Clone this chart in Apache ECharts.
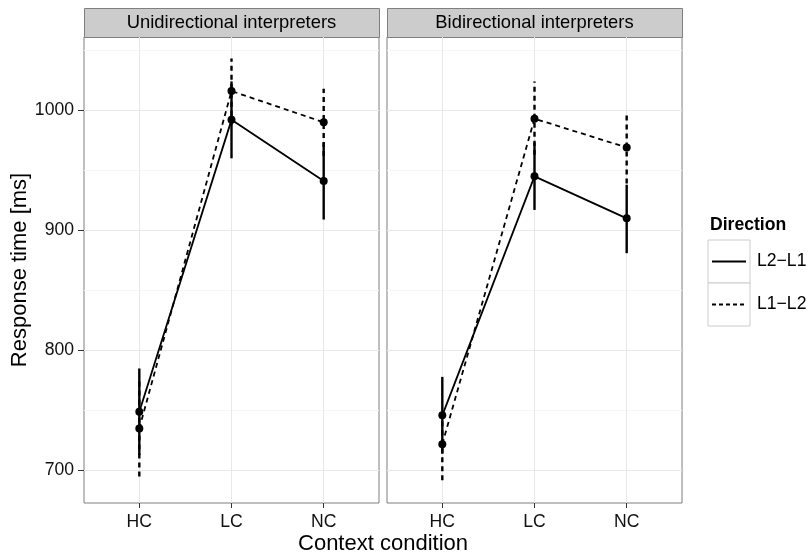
<!DOCTYPE html>
<html>
<head>
<meta charset="utf-8">
<script src="https://cdn.jsdelivr.net/npm/echarts@6/dist/echarts.min.js"></script>
<style>html,body{margin:0;padding:0;background:#fff}#c{width:810px;height:557px}</style>
</head>
<body>
<div id="c"></div>
<script>
var categories = ['HC', 'LC', 'NC'];
var panels = ['Unidirectional interpreters', 'Bidirectional interpreters'];
var seriesNames = ['L2\u2212L1', 'L1\u2212L2'];
var yTicks = [700, 800, 900, 1000];
var yMinorTicks = [750, 850, 950, 1050];

// Unidirectional interpreters
var uniL2L1Mean = [749, 992, 941];
var uniL2L1Lo   = [713, 960, 909];
var uniL2L1Hi   = [785, 1024, 973];
var uniL1L2Mean = [735, 1016, 990];
var uniL1L2Lo   = [695, 988, 962];
var uniL1L2Hi   = [776, 1043, 1018];
// Bidirectional interpreters
var biL2L1Mean = [746, 945, 910];
var biL2L1Lo   = [714, 917, 881];
var biL2L1Hi   = [778, 973, 938];
var biL1L2Mean = [722, 993, 969];
var biL1L2Lo   = [692, 963, 939];
var biL1L2Hi   = [752, 1024, 999];

var FONT = '"Liberation Sans", Arial, Helvetica, sans-serif';
var DASH = [5, 4];
var pos = [1, 2, 3];

function lineData(means) { return means.map(function (m, i) { return [pos[i], m]; }); }
function barData(lo, hi) { return lo.map(function (l, i) { return [pos[i], l, hi[i]]; }); }

function errSeries(name, lo, hi, idx, dashed) {
  return {
    type: 'custom', name: name, xAxisIndex: idx, yAxisIndex: idx,
    data: barData(lo, hi), encode: { x: 0, y: [1, 2] }, z: 2,
    renderItem: function (params, api) {
      var p1 = api.coord([api.value(0), api.value(1)]);
      var p2 = api.coord([api.value(0), api.value(2)]);
      return { type: 'line', shape: { x1: p1[0], y1: p1[1], x2: p2[0], y2: p2[1] },
        style: { stroke: '#000', lineWidth: 2.4, lineDash: dashed ? DASH : null } };
    }
  };
}
function lineSeries(name, means, idx, dashed) {
  return {
    type: 'line', name: name, xAxisIndex: idx, yAxisIndex: idx, data: lineData(means), z: 3,
    symbol: 'circle', symbolSize: 8, itemStyle: { color: '#000' },
    lineStyle: { color: '#000', width: 1.8, type: dashed ? DASH : 'solid' }
  };
}

var gridL = [84, 387], gridW = 295, gridTop = 37, gridH = 466;
var yMin = 673, yMax = 1061;

var xAxes = [0, 1].map(function (i) {
  return {
    type: 'value', gridIndex: i, min: 0.4, max: 3.6,
    axisLine: { show: false },
    axisTick: { show: true, length: 5, customValues: pos, lineStyle: { color: '#333', width: 1 } },
    axisLabel: { customValues: pos, margin: 10, fontFamily: FONT, fontSize: 17.6, color: '#111',
      formatter: function (v) { return categories[Math.round(v) - 1]; } },
    splitLine: { show: true, lineStyle: { color: '#e8e8e8', width: 1 } }
  };
});
var yAxes = [0, 1].map(function (i) {
  return {
    type: 'value', gridIndex: i, min: yMin, max: yMax,
    name: i === 0 ? 'Response time [ms]' : '', nameLocation: 'middle', nameGap: 52,
    nameTextStyle: { fontFamily: FONT, fontSize: 22, color: '#000' },
    axisLine: { show: false },
    axisTick: { show: i === 0, length: 6, customValues: yTicks, lineStyle: { color: '#333', width: 1 } },
    axisLabel: { show: i === 0, customValues: yTicks, margin: 10, fontFamily: FONT, fontSize: 17.6, color: '#111',
      formatter: function (v) { return String(v); } },
    splitLine: { show: true, lineStyle: { color: '#e8e8e8', width: 1 } }
  };
}).concat([0, 1].map(function (i) {
  return {
    type: 'value', gridIndex: i, min: yMin, max: yMax,
    axisLine: { show: false },
    axisTick: { show: false, customValues: yMinorTicks },
    axisLabel: { show: false, customValues: yMinorTicks },
    splitLine: { show: true, lineStyle: { color: '#f5f5f5', width: 1 } }
  };
}));

var graphics = [];
[0, 1].forEach(function (i) {
  graphics.push({ type: 'rect', left: gridL[i], top: 8, shape: { width: gridW, height: 29 },
    style: { fill: '#cccccc', stroke: '#7f7f7f', lineWidth: 1 } });
  graphics.push({ type: 'text', x: gridL[i] + gridW / 2, y: 23,
    style: { text: panels[i], fontFamily: FONT, fontSize: 18.4, fill: '#000', align: 'center', verticalAlign: 'middle' } });
});
graphics.push({ type: 'text', x: 383, y: 544,
  style: { text: 'Context condition', fontFamily: FONT, fontSize: 22, fill: '#000', align: 'center', verticalAlign: 'middle' } });
// legend
graphics.push({ type: 'text', x: 710, y: 225,
  style: { text: 'Direction', fontFamily: FONT, fontSize: 17.6, fontWeight: 'bold', fill: '#000', align: 'left', verticalAlign: 'middle' } });
[0, 1].forEach(function (k) {
  var top = 240 + k * 43;
  graphics.push({ type: 'rect', shape: { x: 708, y: top, width: 42, height: 43 },
    style: { fill: '#fff', stroke: '#cccccc', lineWidth: 1 } });
  graphics.push({ type: 'line', shape: { x1: 712, y1: top + 21.5, x2: 746, y2: top + 21.5 },
    style: { stroke: '#000', lineWidth: 1.8, lineDash: k === 1 ? [4, 3] : null } });
  graphics.push({ type: 'text', x: 757, y: top + 21.5,
    style: { text: seriesNames[k], fontFamily: FONT, fontSize: 17.6, fill: '#000', align: 'left', verticalAlign: 'middle' } });
});

var option = {
  animation: false,
  backgroundColor: '#fff',
  grid: [0, 1].map(function (i) {
    return { left: gridL[i], top: gridTop, width: gridW, height: gridH, show: true,
      borderColor: '#7f7f7f', borderWidth: 1, backgroundColor: 'transparent', containLabel: false };
  }),
  xAxis: xAxes,
  yAxis: yAxes,
  series: [
    errSeries(seriesNames[0], uniL2L1Lo, uniL2L1Hi, 0, false),
    errSeries(seriesNames[1], uniL1L2Lo, uniL1L2Hi, 0, true),
    lineSeries(seriesNames[0], uniL2L1Mean, 0, false),
    lineSeries(seriesNames[1], uniL1L2Mean, 0, true),
    errSeries(seriesNames[0], biL2L1Lo, biL2L1Hi, 1, false),
    errSeries(seriesNames[1], biL1L2Lo, biL1L2Hi, 1, true),
    lineSeries(seriesNames[0], biL2L1Mean, 1, false),
    lineSeries(seriesNames[1], biL1L2Mean, 1, true)
  ],
  graphic: graphics
};
var chart = echarts.init(document.getElementById('c'), null, { renderer: 'canvas' });
chart.setOption(option);
</script>
</body>
</html>
